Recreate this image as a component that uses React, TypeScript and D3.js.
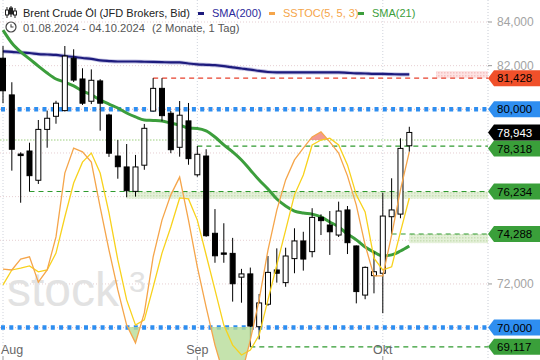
import * as d3 from "d3";

// trading days 01.08.2024 - 04.10.2024
const dates = [
  "01.08", "02.08", "05.08", "06.08", "07.08", "08.08", "09.08", "12.08", "13.08", "14.08",
  "15.08", "16.08", "19.08", "20.08", "21.08", "22.08", "23.08", "26.08", "27.08", "28.08",
  "29.08", "30.08", "02.09", "03.09", "04.09", "05.09", "06.09", "09.09", "10.09", "11.09",
  "12.09", "13.09", "16.09", "17.09", "18.09", "19.09", "20.09", "23.09", "24.09", "25.09",
  "26.09", "27.09", "30.09", "01.10", "02.10", "03.10", "04.10",
];
const open = [
  82.34, 80.66, 77.95, 78.09, 76.75, 79.08, 79.68, 79.94, 82.34, 81.39,
  80.37, 81.3, 79.74, 77.86, 77.36, 76.24, 77.44, 79.92, 80.96, 79.82,
  78.26, 79.47, 77.0, 77.86, 74.32, 73.42, 73.4, 72.31, 72.46, 70.04,
  71.07, 72.64, 72.06, 73.16, 73.97, 73.48, 75.05, 74.7, 74.24, 75.39,
  73.74, 71.49, 72.38, 72.49, 75.08, 75.2, 78.33,
];
const high = [
  82.9, 81.24, 78.03, 78.47, 79.51, 79.94, 80.39, 82.9, 82.75, 81.88,
  81.83, 81.38, 79.8, 78.59, 78.41, 77.91, 79.33, 81.43, 81.43, 79.92,
  80.38, 80.29, 78.32, 78.17, 75.43, 74.78, 74.11, 72.69, 72.75, 71.54,
  73.28, 73.63, 73.66, 74.55, 74.39, 75.47, 75.19, 75.34, 75.77, 75.57,
  73.76, 72.8, 73.48, 76.18, 76.84, 78.67, 79.2,
];
const low = [
  80.28, 77.19, 75.72, 76.23, 76.58, 78.24, 79.34, 79.9, 81.25, 80.2,
  80.24, 79.02, 77.82, 76.82, 75.97, 76.0, 77.23, 79.9, 79.45, 77.99,
  77.83, 77.46, 76.91, 74.16, 72.97, 72.97, 71.19, 71.14, 69.12, 69.46,
  71.0, 72.06, 71.87, 72.49, 72.61, 73.22, 74.24, 73.33, 74.15, 73.37,
  71.11, 71.3, 71.57, 70.66, 74.29, 75.01, 78.06,
];
const close = [
  80.85, 78.17, 77.88, 76.96, 79.08, 79.59, 80.28, 82.44, 81.34, 80.28,
  81.33, 80.28, 77.99, 77.37, 76.27, 77.36, 79.13, 80.96, 79.71, 78.15,
  79.73, 77.74, 77.94, 74.21, 73.29, 73.36, 72.01, 72.46, 70.07, 71.13,
  72.53, 72.49, 73.28, 73.97, 73.14, 75.05, 74.9, 74.39, 75.34, 73.89,
  71.65, 72.76, 72.56, 75.11, 75.39, 78.21, 78.94,
];
const sma200 = [
  82.65, 82.63, 82.6, 82.58, 82.53, 82.51, 82.49, 82.44, 82.4, 82.35,
  82.31, 82.24, 82.21, 82.19, 82.19, 82.19, 82.18, 82.17, 82.16, 82.15,
  82.15, 82.1, 82.06, 82.04, 82.02, 81.98, 81.92, 81.87, 81.82, 81.76,
  81.71, 81.69, 81.69, 81.69, 81.69, 81.69, 81.69, 81.69, 81.69, 81.67,
  81.65, 81.64, 81.62, 81.62, 81.61, 81.6, 81.6,
];
const sma21 = [
  83.63, 83.04, 82.63, 82.31, 81.98, 81.66, 81.39, 81.25, 81.07, 80.84,
  80.66, 80.43, 80.24, 80.06, 79.83, 79.65, 79.51, 79.49, 79.46, 79.37,
  79.28, 79.14, 79.12, 79.01, 78.73, 78.37, 78.05, 77.68, 77.22, 76.76,
  76.35, 75.89, 75.57, 75.34, 75.25, 75.2, 75.07, 74.84, 74.61, 74.29,
  74.02, 73.69, 73.46, 73.28, 73.33, 73.51, 73.74,
];
// SSTOC(5,5,3): slow %K (orange) and %D (yellow)
const stochK = [
  38.6, 38.3, 41.8, 42.5, 34.4, 38.3, 48.9, 69.4, 77.4, 76.2,
  72.9, 58.5, 44.7, 31.9, 20.6, 14.9, 24.5, 42.5, 54.3, 62.4,
  68.1, 54.3, 39.3, 26.4, 14.2, 4.6, 1.4, 4.6, 15.8, 28.7,
  44.7, 57.5, 67.2, 73.6, 77.4, 81.0, 82.6, 79.4, 75.8, 68.5,
  59.1, 46.3, 36.4, 36.4, 49.5, 64.0, 76.2,
];
const stochD = [
  33.5, 38.3, 38.9, 39.6, 37.7, 38.3, 43.7, 55.3, 66.2, 72.9,
  75.8, 69.4, 56.6, 41.5, 28.7, 20.6, 22.3, 32.8, 43.7, 52.1,
  61.4, 61.1, 54.3, 43.1, 31.9, 20.6, 14.2, 11.0, 12.6, 17.4,
  28.7, 39.9, 51.1, 62.4, 68.8, 78.4, 80.0, 80.6, 78.4, 72.0,
  62.4, 56.9, 42.1, 38.3, 39.3, 50.5, 61.4,
];
const priceTicks = [84, 82, 80, 78, 76, 74, 72, 70];
const monthStarts = ["01.08", "02.09", "01.10"];
const monthNames = ["Aug", "Sep", "Okt"];
// horizontal levels: value, kind, first day
const levelValues = [81.428, 80, 78.318, 76.234, 74.288, 70, 69.117];
const levelKinds = ["resistance", "round", "support", "support", "support", "round", "support"];
const levelFrom = ["26.08", "", "02.09", "06.08", "02.10", "", "10.09"];
const zoneValues = [[81.428, 81.75], [76.234, 75.91], [74.288, 73.87]];
const zoneFrom = [null, "21.08", null];
const lastPrice = 78.943;

const FONT = "'Liberation Sans', Arial, sans-serif";
const W = 540;
const H = 360;
const AX = 488;

const deFmt = d3.formatLocale({ decimal: ",", thousands: ".", grouping: [3], currency: ["", "€"] }).format(".3f");
const kindColor: Record<string, string> = {
  resistance: "#f0502a",
  round: "#2e8ef0",
  support: "#3a9f3a",
};

function Marker({ cy, fill, text, textColor }: { cy: number; fill: string; text: string; textColor: string }) {
  const pts = `${AX},${cy} ${AX + 6},${cy - 8} ${W},${cy - 8} ${W},${cy + 8} ${AX + 6},${cy + 8}`;
  return (
    <g>
      <polygon points={pts} fill={fill} />
      <text x={AX + 9} y={cy} dy="0.36em" fontSize={11.5} fill={textColor} fontFamily={FONT}>
        {text}
      </text>
    </g>
  );
}

export default function App() {
  const x = d3.scalePoint<string>().domain(dates).range([3, 409.3]);
  const y = d3.scaleLinear().domain([70, 84]).range([327.6, 22]);
  const ys = d3.scaleLinear().domain([20, 80]).range([327, 140]);
  const xi = (i: number) => x(dates[i]) as number;
  const zoneEnd = AX;
  const zoneStartSpare = 436;
  const lastY = y(lastPrice);
  // keep markers from hiding under the last-price marker
  const markerY = (v: number) => {
    const cy = y(v);
    const d = cy - lastY;
    return Math.abs(d) < 16 ? lastY + (d >= 0 ? 16 : -16) : cy;
  };

  const smaLine = d3
    .line<number>()
    .x((_, i) => xi(i))
    .y((d) => y(d))
    .curve(d3.curveMonotoneX);
  const stLine = d3
    .line<number>()
    .x((_, i) => xi(i))
    .y((d) => ys(d));
  const stArea = (lvl: number) =>
    d3
      .area<number>()
      .x((_, i) => xi(i))
      .y0(ys(lvl))
      .y1((d) => ys(d));

  return (
    <svg
      width={W}
      height={H}
      style={{ position: "absolute", left: 0, top: 0, background: "#fff" }}
      fontFamily={FONT}
    >
      <defs>
        <clipPath id="plot">
          <rect x={0} y={0} width={AX} height={H} />
        </clipPath>
        <clipPath id="above80">
          <rect x={0} y={0} width={AX} height={ys(80)} />
        </clipPath>
        <clipPath id="below20">
          <rect x={0} y={ys(20)} width={AX} height={H} />
        </clipPath>
        <pattern id="hatchG" width="3" height="3" patternUnits="userSpaceOnUse">
          <rect width="3" height="3" fill="#e4f0d8" />
          <rect width="1.5" height="1.5" fill="#c9dfb6" />
        </pattern>
        <pattern id="hatchR" width="3" height="3" patternUnits="userSpaceOnUse">
          <rect width="3" height="3" fill="#fde3e3" />
          <rect width="1.5" height="1.5" fill="#f5c2c2" />
        </pattern>
      </defs>

      {/* grid */}
      {priceTicks.map((t) => (
        <line key={t} x1={0} x2={AX} y1={y(t)} y2={y(t)} stroke="#e6cfd2" strokeDasharray="1 2" />
      ))}
      {monthStarts.map((d) => (
        <line key={d} x1={x(d)} x2={x(d)} y1={0} y2={H - 14} stroke="#cfd3dc" strokeDasharray="1 2" />
      ))}
      <line x1={AX} x2={AX} y1={0} y2={H} stroke="#c8ccd4" strokeDasharray="1 2" />
      <line x1={0} x2={AX} y1={ys(80)} y2={ys(80)} stroke="#9ccf7e" strokeDasharray="1.5 1.5" />

      {/* watermark */}
      <text x={7} y={306} fontSize={48} fill="#e2e2e2" fontFamily={FONT}>
        stock
        <tspan fontSize={30} dy={-14} dx={10}>
          3
        </tspan>
      </text>

      <g clipPath="url(#plot)">
        {/* zones */}
        <rect
          x={zoneStartSpare}
          y={y(zoneValues[0][1])}
          width={zoneEnd - zoneStartSpare}
          height={y(zoneValues[0][0]) - y(zoneValues[0][1])}
          fill="url(#hatchR)"
        />
        <rect
          x={x(zoneFrom[1] as string)}
          y={y(zoneValues[1][0])}
          width={zoneEnd - (x(zoneFrom[1] as string) as number)}
          height={y(zoneValues[1][1]) - y(zoneValues[1][0])}
          fill="url(#hatchG)"
        />
        <rect
          x={xi(dates.length - 1)}
          y={y(zoneValues[2][0])}
          width={zoneEnd - xi(dates.length - 1)}
          height={y(zoneValues[2][1]) - y(zoneValues[2][0])}
          fill="url(#hatchG)"
        />

        {/* level lines */}
        {levelValues.map((v, k) => {
          const kind = levelKinds[k];
          if (kind === "round") {
            return (
              <g key={k}>
                <line x1={0} x2={AX} y1={y(v)} y2={y(v)} stroke="#f3b8b8" strokeDasharray="1 2" />
                <line
                  x1={1}
                  x2={AX}
                  y1={y(v)}
                  y2={y(v)}
                  stroke={kindColor.round}
                  strokeWidth={4.5}
                  strokeDasharray="4 4.3"
                />
              </g>
            );
          }
          const x0 = x(levelFrom[k]) as number;
          return (
            <line
              key={k}
              x1={x0}
              x2={AX}
              y1={y(v)}
              y2={y(v)}
              stroke={kind === "resistance" ? "#e8402c" : "#2f9a2f"}
              strokeWidth={1.2}
              strokeDasharray="5 4"
            />
          );
        })}

        {/* SMA lines */}
        <path d={smaLine(sma200) ?? ""} fill="none" stroke="#8a88c8" strokeWidth={4} opacity={0.5} />
        <path d={smaLine(sma200) ?? ""} fill="none" stroke="#1d1b7d" strokeWidth={2.2} />
        <path d={smaLine(sma21) ?? ""} fill="none" stroke="#3c9e3c" strokeWidth={3} />

        {/* candles */}
        {dates.map((d, i) => {
          const cx = xi(i);
          const up = close[i] >= open[i];
          const top = y(Math.max(open[i], close[i]));
          const bot = y(Math.min(open[i], close[i]));
          return (
            <g key={d}>
              <line x1={cx} x2={cx} y1={y(high[i])} y2={y(low[i])} stroke="#000" strokeWidth={1} />
              <rect
                x={cx - 2.5}
                y={top}
                width={5}
                height={Math.max(bot - top, 1)}
                fill={up ? "#fff" : "#000"}
                stroke="#000"
                strokeWidth={1}
              />
            </g>
          );
        })}

        {/* SSTOC */}
        <path d={stArea(80)(stochK) ?? ""} fill="#f08a80" opacity={0.85} clipPath="url(#above80)" />
        <path d={stArea(20)(stochK) ?? ""} fill="#b7dc98" opacity={0.8} clipPath="url(#below20)" />
        <path d={stLine(stochD) ?? ""} fill="none" stroke="#f8d21c" strokeWidth={1.3} />
        <path d={stLine(stochK) ?? ""} fill="none" stroke="#f5a54a" strokeWidth={1.3} />
      </g>

      {/* right axis */}
      {[84, 82, 72].map((t) => (
        <g key={t}>
          <line x1={AX} x2={AX + 4} y1={y(t)} y2={y(t)} stroke="#999" />
          <text x={AX + 9} y={y(t)} dy="0.36em" fontSize={12} fill="#a3a3a3">
            {deFmt(t)}
          </text>
        </g>
      ))}
      {levelValues.map((v, k) => (
        <Marker
          key={k}
          cy={markerY(v)}
          fill={kindColor[levelKinds[k]]}
          text={deFmt(v)}
          textColor="#000"
        />
      ))}
      <Marker cy={lastY} fill="#000" text={deFmt(lastPrice)} textColor="#fff" />

      {/* x axis */}
      {monthStarts.map((d, k) => (
        <g key={d}>
          <line x1={x(d)} x2={x(d)} y1={H - 4} y2={H} stroke="#999" />
          <text
            x={k === 0 ? 1 : (x(d) as number)}
            y={354}
            fontSize={12.5}
            fill="#666"
            textAnchor={k === 0 ? "start" : "middle"}
          >
            {monthNames[k]}
          </text>
        </g>
      ))}

      {/* legend */}
      <g>
        <g stroke="#222" strokeWidth={1}>
          <line x1={7} x2={7} y1={7} y2={18} />
          <rect x={5.5} y={10} width={3} height={5} fill="#fff" />
          <line x1={11} x2={11} y1={6} y2={17} />
          <rect x={9.5} y={8} width={3} height={6} fill="#222" />
          <line x1={15} x2={15} y1={8} y2={18} />
          <rect x={13.5} y={11} width={3} height={4} fill="#fff" />
        </g>
        <text x={23} y={17} fontSize={11} fill="#222">
          Brent Crude Öl (JFD Brokers, Bid)
        </text>
        <rect x={198} y={12} width={6} height={3} fill="#1d1b7d" />
        <text x={212} y={17} fontSize={11} fill="#2c2a9c">
          SMA(200)
        </text>
        <rect x={269} y={12} width={6} height={3} fill="#f5a54a" />
        <text x={283} y={17} fontSize={11} fill="#f5a54a">
          SSTOC(5, 5, 3)
        </text>
        <rect x={358} y={12} width={6} height={3} fill="#3c9e3c" />
        <text x={372} y={17} fontSize={11} fill="#3c9e3c">
          SMA(21)
        </text>
        <circle cx={11} cy={27} r={5} fill="none" stroke="#444" strokeWidth={1.2} />
        <path d="M11 24.2 V27 H13.5" fill="none" stroke="#444" strokeWidth={1.1} />
        <text x={23} y={32} fontSize={11.2} fill="#555">
          01.08.2024 - 04.10.2024
        </text>
        <text x={152} y={32} fontSize={11.2} fill="#555">
          (2 Monate, 1 Tag)
        </text>
      </g>
    </svg>
  );
}
